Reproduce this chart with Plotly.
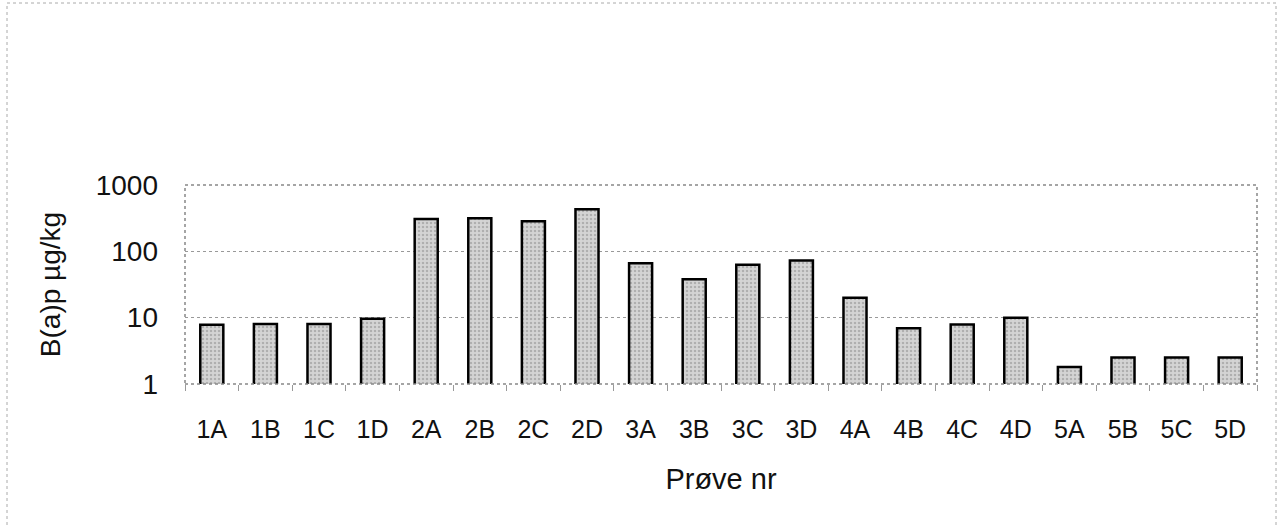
import plotly.graph_objects as go

categories = ["1A", "1B", "1C", "1D", "2A", "2B", "2C", "2D", "3A", "3B",
              "3C", "3D", "4A", "4B", "4C", "4D", "5A", "5B", "5C", "5D"]
values = [7.8, 8.0, 8.0, 9.6, 308, 316, 284, 431, 66, 38,
          63, 73, 20, 6.9, 7.9, 10, 1.8, 2.5, 2.5, 2.5]
y_ticks = [1, 10, 100, 1000]
y_ticktext = ["1", "10", "100", "1000"]

FONT = "Liberation Sans, Arial, Helvetica, sans-serif"

fig = go.Figure()
fig.add_trace(go.Bar(
    x=categories, y=values,
    marker=dict(color="#c4c4c4", line=dict(color="black", width=2.5),
                pattern=dict(shape=".", fgcolor="#8a8a8a", bgcolor="#d4d4d4",
                             size=4, solidity=0.3)),
    width=0.43,
))

fig.update_layout(
    width=1281, height=527,
    margin=dict(l=185, r=24, t=185, b=143),
    paper_bgcolor="white", plot_bgcolor="white",
    showlegend=False,
    font=dict(family=FONT, color="#111111"),
    bargap=0.57,
    xaxis=dict(
        type="category",
        showgrid=False, zeroline=False,
        ticks="outside", ticklen=6, tickcolor="#999999",
        tickson="boundaries",
        tickfont=dict(size=25, color="#111111"),
        ticklabelstandoff=28,
        title=dict(text="Prøve nr", font=dict(size=29, color="#111111"), standoff=26),
        range=[-0.5, 19.5],
    ),
    yaxis=dict(
        type="log", range=[0, 3],
        tickvals=y_ticks, ticktext=y_ticktext,
        showgrid=True, gridcolor="#999999", griddash="dot", gridwidth=1,
        zeroline=False,
        ticks="", tickfont=dict(size=28, color="#111111"),
        ticklabelstandoff=26,
        title=dict(text="B(a)p µg/kg", font=dict(size=28, color="#111111"), standoff=26),
    ),
    shapes=[
        dict(type="rect", xref="paper", yref="paper", x0=0, x1=1, y0=0, y1=1,
             line=dict(color="#888888", width=1.5, dash="dot"), layer="above"),
        dict(type="rect", xref="paper", yref="paper",
             x0=(7 - 185) / 1072, x1=(1276 - 185) / 1072,
             y0=(384 - 540) / 199, y1=(384 - 3) / 199,
             line=dict(color="#aaaaaa", width=1, dash="dot"), layer="below"),
    ],
)

fig.write_html("out.html")
